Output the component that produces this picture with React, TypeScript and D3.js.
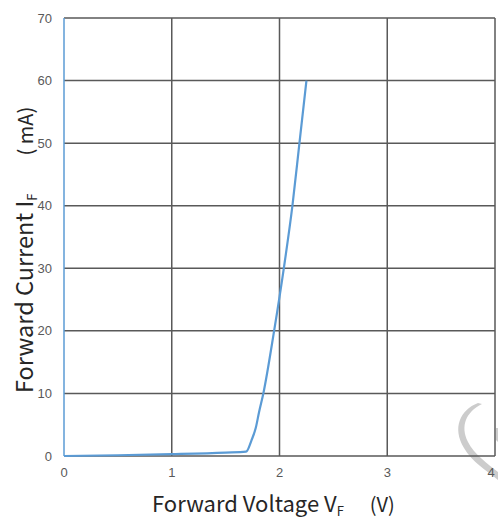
import React from 'react'
import * as d3 from 'd3'

const width = 498
const height = 520
const margin = { left: 64, right: 3, top: 18, bottom: 64 }

// forward voltage (V) vs forward current (mA)
const voltage = [0, 0.5, 1.0, 1.5, 1.69, 1.74, 1.78, 1.81, 1.85, 1.95, 2.04, 2.12, 2.185, 2.25]
const current = [0, 0.12, 0.3, 0.55, 0.7, 2.5, 4.5, 7, 10, 20, 30, 40, 50, 60]
const xTicks = [0, 1, 2, 3, 4]
const yTicks = [0, 10, 20, 30, 40, 50, 60, 70]

const gridColor = '#595959'
const textColor = '#595959'
const lineColor = '#5b9bd5'

export default function App() {
  const x = d3.scaleLinear().domain([0, 4]).range([margin.left, width - margin.right])
  const y = d3.scaleLinear().domain([0, 70]).range([height - margin.bottom, margin.top])
  const points: [number, number][] = voltage.map((v, i) => [v, current[i]])
  const line = d3.line<[number, number]>()
    .x(d => x(d[0]))
    .y(d => y(d[1]))
    .curve(d3.curveMonotoneX)

  return (
    <svg width={width} height={height} style={{ display: 'block', position: 'absolute', left: 0, top: 0 }}>
      <rect width={width} height={height} fill='#fff' />
      {/* watermark */}
      <path d='M 478 403 C 460 410, 452 428, 464 448 C 472 462, 486 470, 498 480 L 498 472 C 488 464, 474 454, 468 442 C 460 426, 466 412, 482 404 Z'
        fill='#cccccc' />
      <path d='M 496 428 L 498 428 L 498 442 L 496 440 Z' fill='#cccccc' />
      <g>
        {yTicks.map(t => (
          <line key={'y' + t} x1={x(0)} x2={x(4)} y1={y(t)} y2={y(t)} stroke={gridColor} strokeWidth={1.5} />
        ))}
        {xTicks.map(t => (
          <line key={'x' + t} x1={x(t)} x2={x(t)} y1={y(0)} y2={y(70)} stroke={t === 0 ? lineColor : gridColor} strokeWidth={1.5} />
        ))}
      </g>
      <path d={line(points) ?? ''} fill='none' stroke={lineColor} strokeWidth={2.2} />
      <g fontFamily='"Liberation Sans", Arial, sans-serif' fontSize={13} fill={textColor}>
        {yTicks.map(t => (
          <text key={t} x={52} y={y(t)} dy='0.35em' textAnchor='end'>{t}</text>
        ))}
        {xTicks.map(t => (
          <text key={t} x={Math.min(x(t), 491)} y={477} textAnchor='middle'>{t}</text>
        ))}
      </g>
      <g fontFamily='"Noto Sans CJK SC", "Noto Sans", sans-serif' fill='#262626'>
        <text x={152} y={512} fontSize={22}>
          Forward Voltage V<tspan fontSize={13} dy={4}>F</tspan>
          <tspan dy={-4} dx={26} fontSize={20}>(V)</tspan>
        </text>
        <text transform='translate(33,393) rotate(-90)' fontSize={23.5}>
          Forward Current I<tspan fontSize={13} dy={4}>F</tspan>
          <tspan dy={-4} dx={38} fontSize={20}>( mA)</tspan>
        </text>
      </g>
    </svg>
  )
}
